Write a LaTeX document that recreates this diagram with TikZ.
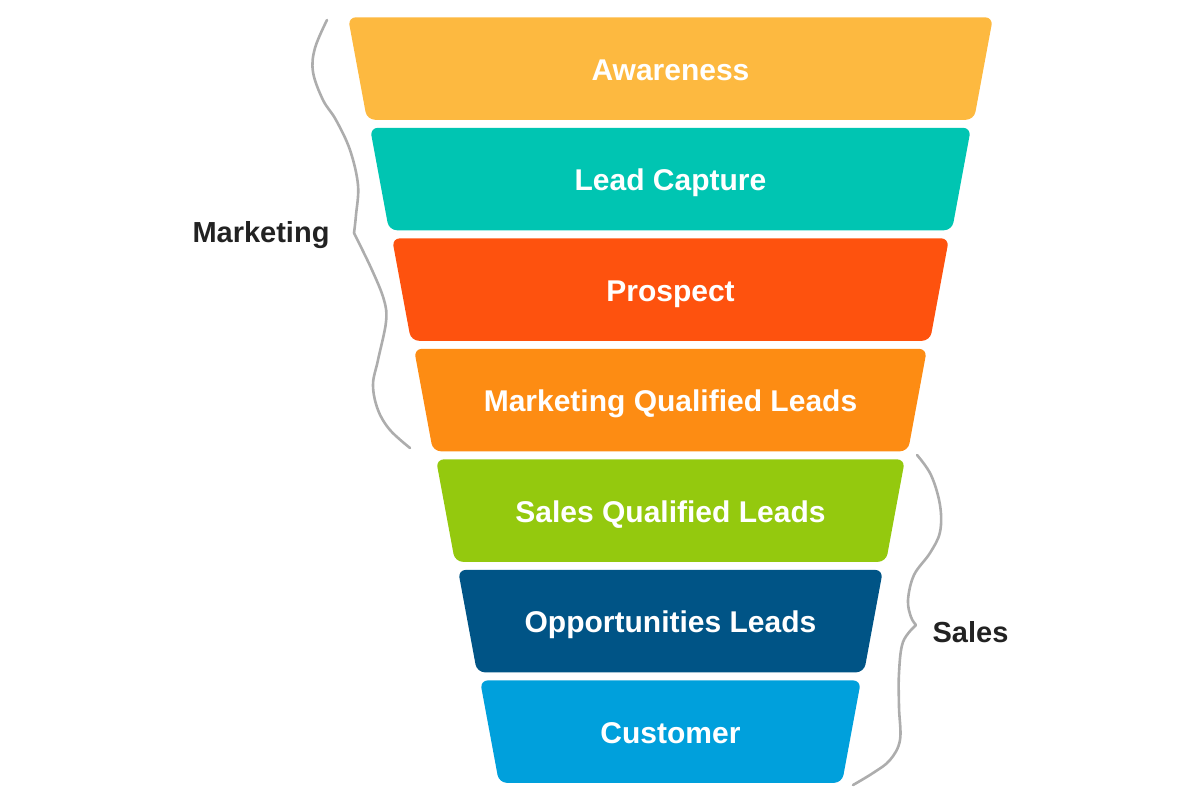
\documentclass[tikz,border=0pt]{standalone}
\usepackage{fontspec}
\setmainfont{Liberation Sans}
\usepackage{xcolor}
\usetikzlibrary{positioning,shapes.geometric}

\definecolor{awareC}{HTML}{FDB940}
\definecolor{leadC}{HTML}{00C5B2}
\definecolor{prospectC}{HTML}{FE520E}
\definecolor{mqlC}{HTML}{FD8C13}
\definecolor{sqlC}{HTML}{94C90E}
\definecolor{oppC}{HTML}{005486}
\definecolor{custC}{HTML}{00A0DC}
\definecolor{labelC}{HTML}{222222}
\definecolor{braceC}{HTML}{ADADAD}

\begin{document}
\begin{tikzpicture}[x=0.5pt, y=-0.5pt, node distance=4pt,
    every node/.style={font=\bfseries\fontsize{14.5}{17}\selectfont},
    tier/.style={trapezium, shape border rotate=180, trapezium angle=79.5, trapezium stretches body, font=\bfseries\fontsize{15}{18}\selectfont, text height=13pt, text depth=1.5pt, inner xsep=0pt, inner ysep=18.375pt, outer sep=0pt, rounded corners=4pt, text=white},
    side/.style={text=labelC},
    bracket/.style={draw=braceC, line width=1.3pt, line cap=round, line join=round}]
    \useasboundingbox (0,0) rectangle (1200,798);
    % funnel
    \node[tier, fill=awareC, minimum width=322.5pt] (aware) at (670.5,68.5) {Awareness};
    \node[tier, fill=leadC, minimum width=300.5pt] (lead) [below=of aware] {Lead Capture};
    \node[tier, fill=prospectC, minimum width=278.5pt] (prospect) [below=of lead] {Prospect};
    \node[tier, fill=mqlC, minimum width=256.5pt] (mql) [below=of prospect] {Marketing Qualified Leads};
    \node[tier, fill=sqlC, minimum width=234.5pt] (sql) [below=of mql] {Sales Qualified Leads};
    \node[tier, fill=oppC, minimum width=212.5pt] (opp) [below=of sql] {Opportunities Leads};
    \node[tier, fill=custC, minimum width=190.5pt] (cust) [below=of opp] {Customer};
    % braces
    \coordinate (mtip) at (354,233);
    \coordinate (stip) at (916,625);
    \draw[bracket] plot[smooth, tension=0.6] coordinates {(327,20) (315,48) (313,72) (323,100) (336,120) (350,150) (358,185) (356,215) (mtip)};
    \draw[bracket] plot[smooth, tension=0.6] coordinates {(mtip) (372,270) (384,300) (386,322) (378,360) (373,385) (378,410) (390,430) (410,448)};
    \draw[bracket] plot[smooth, tension=0.6] coordinates {(917,455) (931,475) (940,505) (940,532) (930,553) (914,575) (908,600) (911,617) (stip)};
    \draw[bracket] plot[smooth, tension=0.6] coordinates {(stip) (903,642) (899,673) (899,707) (900,740) (890,760) (873,773) (853,785)};
    % group labels
    \node[side] (market) at (261,235) {Marketing};
    \node[side] (sales) at (970.5,632) {Sales};
\end{tikzpicture}
\end{document}
